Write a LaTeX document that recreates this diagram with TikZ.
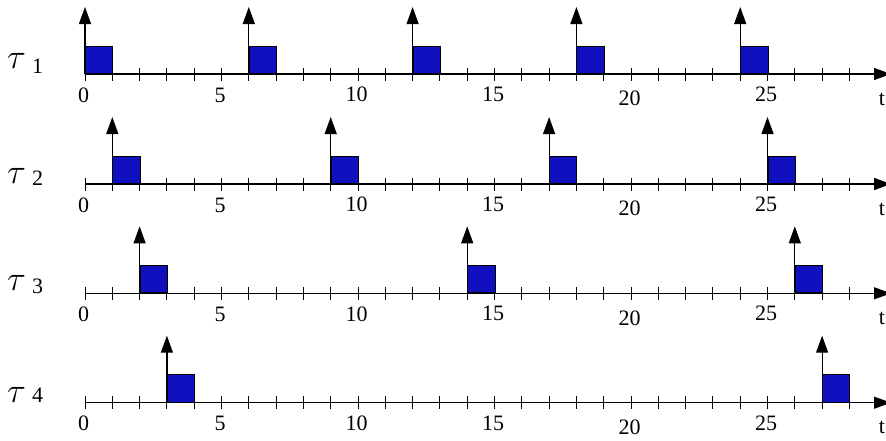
\RequirePackage{fix-cm}
\documentclass[tikz,border=0pt]{standalone}
\usepackage{fontspec}
\setmainfont{Liberation Serif}
\usetikzlibrary{arrows.meta}
\definecolor{jobblue}{RGB}{16,16,190}
\begin{document}
\begin{tikzpicture}[x=1pt,y=-1pt,
  axisline/.style={line width=1.2pt,-{Triangle[length=17pt,width=12pt]}},
  release/.style={line width=1.2pt,-{Triangle[length=17pt,width=12pt]}},
  jobbox/.style={draw=black,line width=1pt,fill=jobblue,inner sep=0pt,
    minimum width=27.3pt,minimum height=27.3pt,anchor=south west},
  tickmark/.style={line width=1pt},
  ticklabel/.style={font=\fontsize{22}{22}\selectfont,inner sep=0pt},
  taulabel/.style={font=\fontsize{35}{35}\selectfont,inner sep=0pt,anchor=base west},
  sublabel/.style={font=\fontsize{22}{22}\selectfont,inner sep=0pt,anchor=base west}]
\useasboundingbox (0,0) rectangle (886,440);
\def\ux{27.3}
\foreach \r/\y/\rel/\tb/\sb in {1/74/{0,6,12,18,24}/68/73, 2/184/{1,9,17,25}/183/185, 3/293.3/{2,14,26}/290/293, 4/402.7/{3,27}/402/402}{
  % axis
  \coordinate (o\r) at (85,\y);
  \coordinate (e\r) at (891,\y);
  \draw[axisline] (o\r) -- (e\r);
  \foreach \k in {0,...,28}{
    \draw[tickmark] (85+\k*\ux,\y-6.5) -- (85+\k*\ux,\y+6.5);
  }
  % labels
  \foreach \k/\d in {0/21,5/21,10/20.5,15/20.5,20/24.5,25/20.5}{
    \node[ticklabel] (l\r-\k) at (85+\k*\ux-1.5,\y+\d) {\k};
  }
  \node[ticklabel] (t\r) at (882,\y+25) {t};
  % task label
  \node[taulabel] (tau\r) at (7,\tb) {$\tau$};
  \node[sublabel] (sub\r) at (32,\sb) {\r};
  % jobs
  \foreach \t in \rel{
    \node[jobbox] (b\r-\t) at (85+\t*\ux,\y) {};
    \coordinate (a\r-\t) at (85+\t*\ux,\y-67);
    \draw[release] (b\r-\t.south west) -- (a\r-\t);
  }
}
\end{tikzpicture}
\end{document}
